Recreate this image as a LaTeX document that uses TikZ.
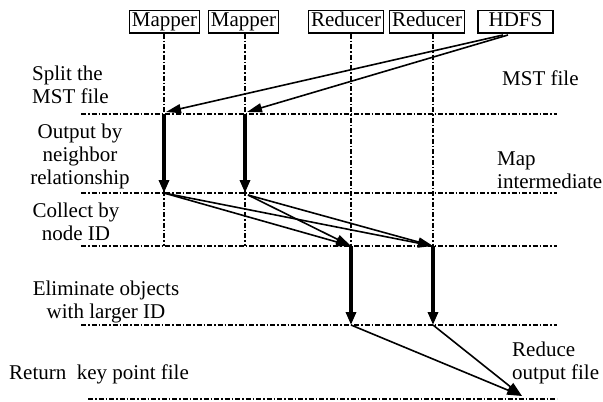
\documentclass[tikz,border=0pt]{standalone}
\usepackage{fontspec}
\setmainfont{Liberation Serif}
\usetikzlibrary{arrows.meta}
\begin{document}
\begin{tikzpicture}[x=1pt,y=-1pt,
  every node/.style={font=\fontsize{21}{23}\selectfont},
  box/.style={draw,line width=1.5pt,inner xsep=2.5pt,inner ysep=2pt,text height=14pt,text depth=4.5pt},
  life/.style={line width=1.5pt,dash pattern=on 5pt off 2pt on 1.5pt off 2pt},
  thin/.style={line width=1.6pt,-{Triangle[length=15pt,width=9pt]}},
  thick/.style={line width=3.2pt,-{Triangle[length=13pt,width=10pt]}},
  lbl/.style={inner sep=0pt}]
\useasboundingbox (0,0) rectangle (603,402);
% boxes
\node[box] (m1) at (164.5,21.5) {Mapper};
\node[box] (m2) at (243.5,21.5) {Mapper};
\node[box] (r1) at (346,21.5) {Reducer};
\node[box] (r2) at (427,21.5) {Reducer};
\node[box,minimum width=75pt] (h) at (515.5,21.5) {HDFS};
% level coordinates
\coordinate (m1a) at (164,114); \coordinate (m1b) at (164,193); \coordinate (m1c) at (164,246);
\coordinate (m2a) at (245,114); \coordinate (m2b) at (245,193); \coordinate (m2c) at (245,246);
\coordinate (r1c) at (351,246); \coordinate (r1d) at (351,325);
\coordinate (r2c) at (433,246); \coordinate (r2d) at (433,325);
\coordinate (ha) at (503,35); \coordinate (hb) at (508,35);
\coordinate (m1t) at (166,112); \coordinate (m2t) at (247,112);
\coordinate (m2s) at (248,195);
\coordinate (out) at (522,396);
% horizontal level lines
\coordinate (L1a) at (81,114); \coordinate (L1b) at (557,114);
\coordinate (L2a) at (81,193); \coordinate (L2b) at (557,193);
\coordinate (L3a) at (81,246); \coordinate (L3b) at (557,246);
\coordinate (L4a) at (81,325); \coordinate (L4b) at (557,325);
\coordinate (L5a) at (88,399); \coordinate (L5b) at (557,399);
\foreach \i in {1,...,5} {\draw[life] (L\i a) -- (L\i b);}
% lifelines
\draw[life] (m1.south -| m1c) -- (m1c);
\draw[life] (m2.south -| m2c) -- (m2c);
\draw[life] (r1.south -| r1c) -- (r1c);
\draw[life] (r2.south -| r2c) -- (r2c);
% HDFS split arrows
\draw[thin] (ha) -- (m1t);
\draw[thin] (hb) -- (m2t);
% map arrows
\draw[thick] (m1a) -- (m1b);
\draw[thick] (m2a) -- (m2b);
% shuffle arrows
\draw[thin] (m1b) -- (r1c);
\draw[thin] (m1b) -- (r2c);
\draw[thin] (m2s) -- (r1c);
\draw[thin] (m2s) -- (r2c);
% reduce arrows
\draw[thick] (r1c) -- (r1d);
\draw[thick] (r2c) -- (r2d);
% output arrows
\draw[thin] (r1d) -- (out);
\draw[thin] (r2d) -- (out);
% labels
\node[lbl,align=left,anchor=west] (t1) at (32,84.5) {Split the\\MST file};
\node[lbl,align=center] (t2) at (80,156) {Output by\\neighbor\\relationship};
\node[lbl,align=center] (t3) at (76,222) {Collect by\\node ID};
\node[lbl,align=center] (t4) at (106,302) {Eliminate objects\\with larger ID};
\node[lbl,anchor=west] (t5) at (9,374) {Return\ \ key point file};
\node[lbl,anchor=west] (t6) at (502,78) {MST file};
\node[lbl,align=left,anchor=west] (t7) at (497,170) {Map\\intermediate};
\node[lbl,align=left,anchor=west] (t8) at (512,363) {Reduce\\output file};
\end{tikzpicture}
\end{document}
